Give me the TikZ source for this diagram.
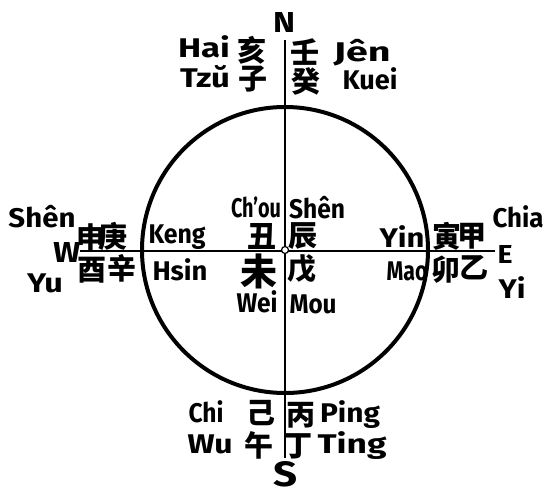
\documentclass[tikz,border=0pt]{standalone}
\usepackage{fontspec}
\usepackage{graphicx}
\newfontfamily\latfont{Fira Sans}
\newfontfamily\cjk{Noto Sans CJK SC}
\newcommand{\fitw}[2]{\resizebox{#1}{\height}{#2}}
\newcommand{\fitwh}[3]{\resizebox{#1}{#2}{#3}}
\tikzset{
  lat/.style={font=\latfont\bfseries\fontsize{27}{27}\selectfont, inner sep=0pt, anchor=base},
  han/.style={font=\cjk\bfseries\fontsize{29}{29}\selectfont, inner sep=0pt, anchor=center},
  dir/.style={font=\latfont\bfseries\fontsize{28}{28}\selectfont, inner sep=0pt, anchor=center},
  axis/.style={line width=2.4pt},
  ring/.style={line width=4pt}
}
\begin{document}
\begin{tikzpicture}[x=1pt,y=-1pt]
\useasboundingbox (0,0) rectangle (545,492);
% frame of compass
\coordinate (C) at (285,250);
\coordinate (top) at (285,40);
\coordinate (bot) at (285,458);
\coordinate (lft) at (80,251);
\coordinate (rgt) at (495,251);
\draw[ring] (C) circle[radius=143];
\draw[axis] (top) -- (bot);
\draw[axis] (lft) -- (rgt);
\node[draw, circle, fill=white, line width=1.2pt, minimum size=7pt, inner sep=0pt] (hub) at (C) {};
% cardinal letters
\node[dir] (N) at (284,23) {\fitwh{22pt}{20pt}{N}};
\node[dir] (S) at (285,474) {\fitwh{24pt}{25pt}{S}};
\node[dir] (W) at (67,252) {\fitwh{27pt}{20pt}{W}};
\node[dir] (E) at (505,254) {\fitwh{15pt}{18pt}{E}};
% north
\node[lat] (hai) at (204,58) {\fitw{52pt}{Hai}};
\node[han] (c1) at (252,50) {亥};
\node[lat] (tzu) at (205,87) {\fitw{50pt}{Tzŭ}};
\node[han] (c2) at (253,79) {子};
\node[han] (c3) at (305,52) {壬};
\node[lat] (jen) at (362,62) {\fitw{57pt}{Jên}};
\node[han] (c4) at (306,81) {癸};
\node[lat] (kuei) at (370,90) {\fitw{55pt}{Kuei}};
% west
\node[lat] (shenw) at (42,227) {\fitw{67pt}{Shên}};
\node[lat] (yu) at (45,292) {\fitw{36pt}{Yu}};
\node[han] (c5) at (91,237) {申};
\node[han] (c6) at (113,236) {庚};
\node[han] (c7) at (92,270) {酉};
\node[han] (c8) at (122,268) {辛};
\node[lat] (keng) at (177,243) {\fitw{57pt}{Keng}};
\node[lat] (hsin) at (180,280) {\fitw{55pt}{Hsin}};
% centre
\node[lat] (chou) at (256,217) {\fitw{50pt}{Ch’ou}};
\node[lat] (shenc) at (317,218) {\fitw{56pt}{Shên}};
\node[han] (c9) at (262,237) {丑};
\node[han] (c10) at (303,236) {辰};
\node[han, font=\cjk\bfseries\fontsize{37}{37}\selectfont] (c11) at (259,271) {未};
\node[han] (c12) at (302,269) {戊};
\node[lat] (wei) at (257,312) {\fitw{41pt}{Wei}};
\node[lat] (mou) at (313,313) {\fitw{47pt}{Mou}};
% east
\node[lat] (yin) at (402,247) {\fitw{45pt}{Yin}};
\node[lat] (mao) at (407,280) {\fitw{41pt}{Mao}};
\node[han] (c13) at (447,236) {寅};
\node[han] (c14) at (472,236) {甲};
\node[han] (c15) at (446,270) {卯};
\node[han] (c16) at (474,268) {乙};
\node[lat] (chia) at (518,227) {\fitw{51pt}{Chia}};
\node[lat] (yi) at (512,298) {\fitw{27pt}{Yi}};
% south
\node[lat] (chi) at (206,422) {\fitw{35pt}{Chi}};
\node[han] (c17) at (261,413) {己};
\node[han] (c18) at (301,415) {丙};
\node[lat] (ping) at (350,422) {\fitw{60pt}{Ping}};
\node[lat] (wu) at (210,453) {\fitw{45pt}{Wu}};
\node[han] (c19) at (259,445) {午};
\node[han] (c20) at (298,446) {丁};
\node[lat] (ting) at (352,453) {\fitw{69pt}{Ting}};
\end{tikzpicture}
\end{document}
